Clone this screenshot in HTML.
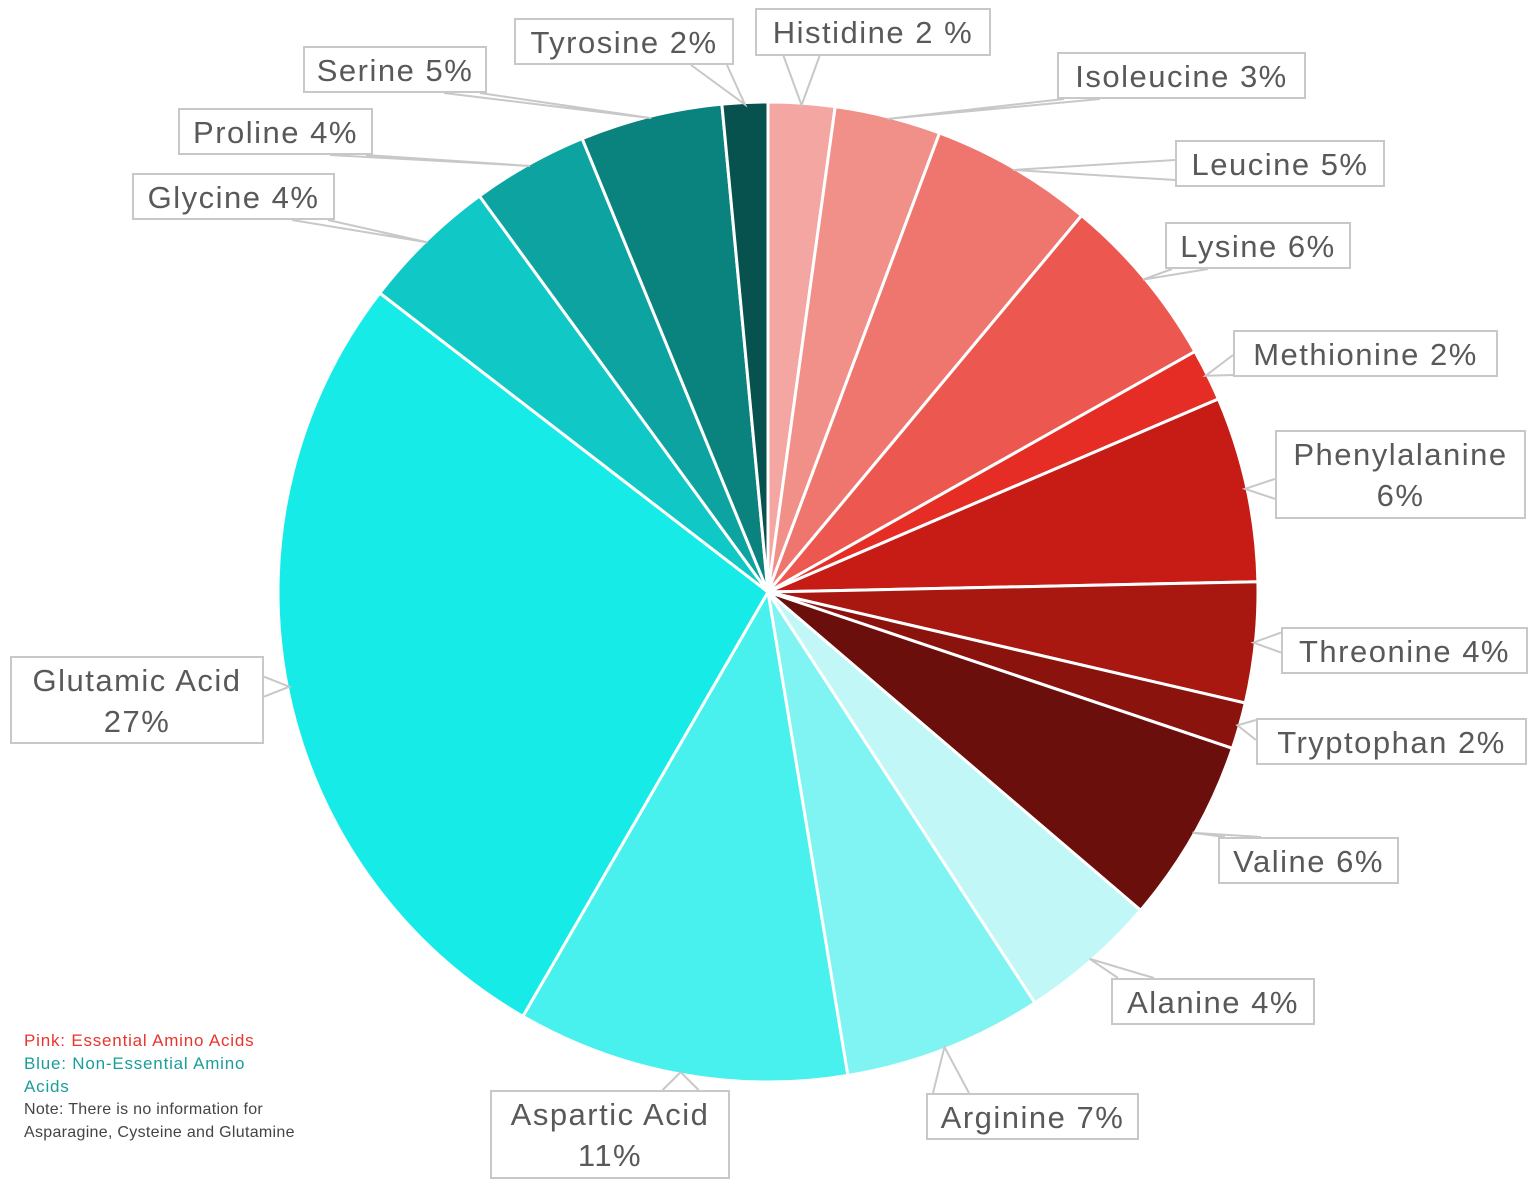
<!DOCTYPE html>
<html><head><meta charset="utf-8">
<style>
body{margin:0;background:#fff;width:1536px;height:1187px;overflow:hidden;position:relative;font-family:"Liberation Sans",sans-serif}
svg{position:absolute;left:0;top:0}
.lbl{position:absolute;border:2px solid #c8c8c8;background:#fff;color:#595959;font-size:31px;line-height:41px;text-align:center;box-sizing:border-box;letter-spacing:1.5px;white-space:nowrap}
.legend{position:absolute;left:24px;top:1029px;font-size:17px;line-height:23px;letter-spacing:0.8px}
</style></head><body>
<svg id="chart" width="1536" height="1187"></svg>
<div class="legend">
<div style="color:#e8342c">Pink: Essential Amino Acids</div>
<div style="color:#1a9e98;width:262px">Blue: Non-Essential Amino Acids</div>
<div style="color:#444;font-size:16px;letter-spacing:0.3px">Note: There is no information for<br>Asparagine, Cysteine and Glutamine</div>
</div>
<script>
const categories=["Histidine","Isoleucine","Leucine","Lysine","Methionine","Phenylalanine","Threonine","Tryptophan","Valine","Alanine","Arginine","Aspartic Acid","Glutamic Acid","Glycine","Proline","Serine","Tyrosine"];
const values=[2.19,3.5,5.36,5.78,1.72,6.11,3.97,1.53,6.08,4.58,6.56,10.94,27.1,4.53,3.83,4.69,1.5];
const labels=["Histidine 2 %","Isoleucine 3%","Leucine 5%","Lysine 6%","Methionine 2%","Phenylalanine<br>6%","Threonine 4%","Tryptophan 2%","Valine 6%","Alanine 4%","Arginine 7%","Aspartic Acid<br>11%","Glutamic Acid<br>27%","Glycine 4%","Proline 4%","Serine 5%","Tyrosine 2%"];
const colors=["#f4a6a2","#f18f89","#ee766f","#ec5750","#e52d25","#c61c15","#a81811","#8a130e","#6a0f0b","#c2f7f7","#80f4f2","#48f0ee","#17ebe7","#10c8c5","#0da3a0","#0a827d","#07524f"];
const boxes=[[755,8,236,48],[1057,52,249,47],[1175,140,210,47],[1165,222,186,47],[1233,330,265,47],[1275,430,251,89],[1281,627,247,47],[1256,718,271,47],[1218,837,181,47],[1111,978,204,47],[926,1093,213,47],[490,1090,240,89],[10,656,254,88],[132,173,203,47],[178,108,195,47],[303,46,184,47],[514,18,220,47]];
const cx=768,cy=592,R=490;
const svg=document.getElementById('chart');
const NS='http://www.w3.org/2000/svg';
const total=values.reduce((a,b)=>a+b,0);
function pt(a,r){return [cx+r*Math.sin(a),cy-r*Math.cos(a)];}
let acc=0;
const lines=document.createElementNS(NS,'g');
values.forEach((v,i)=>{
  const a0=acc/total*2*Math.PI; acc+=v; const a1=acc/total*2*Math.PI;
  const p0=pt(a0,R),p1=pt(a1,R);
  const large=(a1-a0)>Math.PI?1:0;
  const p=document.createElementNS(NS,'path');
  p.setAttribute('d',`M${cx},${cy}L${p0[0]},${p0[1]}A${R},${R} 0 ${large} 1 ${p1[0]},${p1[1]}Z`);
  p.setAttribute('fill',colors[i]);p.setAttribute('stroke','#fff');p.setAttribute('stroke-width','3');
  
  
  svg.appendChild(p);
  const am=(a0+a1)/2;const tip=pt(am,R-2);
  const b=boxes[i];
  const nx=Math.max(b[0],Math.min(b[0]+b[2],tip[0])),ny=Math.max(b[1],Math.min(b[1]+b[3],tip[1]));
  let A,B;
  if(ny===b[1]||ny===b[1]+b[3]){const x=Math.max(b[0]+25,Math.min(b[0]+b[2]-25,nx));A=[x-18,ny];B=[x+18,ny];}
  else{const y=Math.max(b[1]+12,Math.min(b[1]+b[3]-12,ny));A=[nx,y-10];B=[nx,y+10];}
  const l=document.createElementNS(NS,'polyline');
  l.setAttribute('points',`${A[0]},${A[1]} ${tip[0]},${tip[1]} ${B[0]},${B[1]}`);
  l.setAttribute('fill','none');l.setAttribute('stroke','#c8c8c8');l.setAttribute('stroke-width','2');
  
  
  lines.appendChild(l);
  const d=document.createElement('div');
  d.className='lbl';
  d.style.left=b[0]+'px';d.style.top=b[1]+'px';d.style.width=b[2]+'px';d.style.height=b[3]+'px';
  d.style.paddingTop='2px';
  d.innerHTML=labels[i];
  
  
  document.body.appendChild(d);
});
svg.appendChild(lines);
</script>
</body></html>
